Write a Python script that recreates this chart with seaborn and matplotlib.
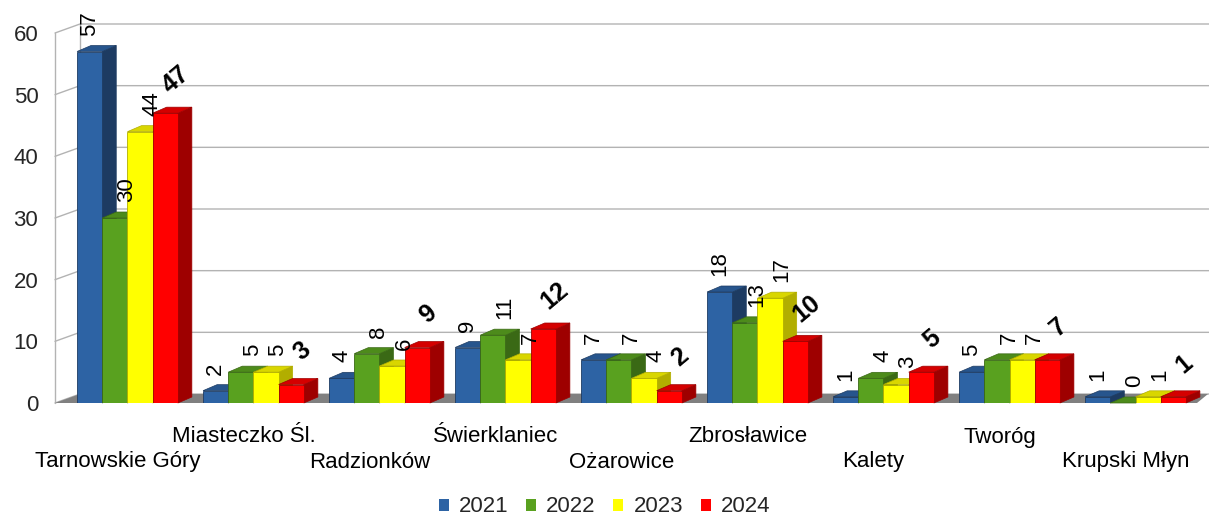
import matplotlib
matplotlib.use("Agg")
import matplotlib.pyplot as plt
from matplotlib.patches import Polygon, Patch
import numpy as np
import pandas as pd
import seaborn as sns

gminy = ["Tarnowskie Góry", "Miasteczko Śl.", "Radzionków", "Świerklaniec",
         "Ożarowice", "Zbrosławice", "Kalety", "Tworóg", "Krupski Młyn"]
lata = ["2021", "2022", "2023", "2024"]
v2021 = [57, 2, 4, 9, 7, 18, 1, 5, 1]
v2022 = [30, 5, 8, 11, 7, 13, 4, 7, 0]
v2023 = [44, 5, 6, 7, 4, 17, 3, 7, 1]
v2024 = [47, 3, 9, 12, 2, 10, 5, 7, 1]

front_cols = ["#2d63a4", "#59a11f", "#ffff00", "#ff0000"]
side_cols = ["#1d3b62", "#3a6915", "#b2ae00", "#9e0000"]
top_cols = ["#27558d", "#4d8b1b", "#d9d600", "#d40000"]

df = pd.DataFrame({
    "gmina": np.repeat(gminy, 4),
    "rok": lata * len(gminy),
    "wartosc": np.ravel(np.column_stack([v2021, v2022, v2023, v2024])),
})

sns.set_style("white")
plt.rcParams["font.family"] = ["Liberation Sans", "DejaVu Sans"]

W, H = 1209, 521
fig = plt.figure(figsize=(W / 100, H / 100), dpi=100)
ax = fig.add_axes([55 / W, 118 / H, 1142 / W, 370 / H])

sns.barplot(data=df, x="gmina", y="wartosc", hue="rok", order=gminy,
            hue_order=lata, palette=front_cols, width=0.8, saturation=1,
            legend=False, ax=ax)

xmin, xmax = -0.575, 8.488
ax.set_xlim(xmin, xmax)
ax.set_ylim(0, 60)
px_x = 1142 / (xmax - xmin)
px_y = 370 / 60

# depth of bars and of the chart walls (in data units)
bdx, bdy = 14 / px_x, 6 / px_y
wdx_l, wdx_r, wdy = 25 / px_x, 11 / px_x, 9 / px_y
x_right = xmin + (W - 55) / px_x

# floor
floor = Polygon([(xmin, 0), (xmax, 0), (xmax + wdx_r, wdy), (xmin + wdx_l, wdy)],
                closed=True, facecolor="#808080", edgecolor="none",
                zorder=0.5, clip_on=False)
ax.add_patch(floor)

# walls / grid
grid_c = "#b3b3b3"
for v in range(0, 61, 10):
    ax.plot([xmin, xmin + wdx_l, x_right], [v, v + wdy, v + wdy],
            color=grid_c, lw=1, zorder=0.3, clip_on=False)
ax.plot([xmin, xmin], [0, 60], color=grid_c, lw=1, zorder=0.3, clip_on=False)
ax.plot([xmin + wdx_l] * 2, [wdy, 60 + wdy], color=grid_c, lw=1,
        zorder=0.3, clip_on=False)

# pseudo 3d faces
for h, cont in enumerate(ax.containers):
    for bar in cont:
        x0 = bar.get_x()
        w = bar.get_width()
        hgt = bar.get_height()
        x1 = x0 + w
        z = 3 + h * 0.1
        bar.set_zorder(z + 0.05)
        bar.set_edgecolor(side_cols[h])
        bar.set_linewidth(0.6)
        side = Polygon([(x1, 0), (x1 + bdx, bdy), (x1 + bdx, hgt + bdy), (x1, hgt)],
                       closed=True, facecolor=side_cols[h], edgecolor=side_cols[h],
                       lw=0.5, zorder=z, clip_on=False)
        top = Polygon([(x0, hgt), (x1, hgt), (x1 + bdx, hgt + bdy), (x0 + bdx, hgt + bdy)],
                      closed=True, facecolor=top_cols[h], edgecolor=side_cols[h],
                      lw=0.5, zorder=z + 0.06, clip_on=False)
        ax.add_patch(side)
        ax.add_patch(top)

        cx = x0 + w / 2
        if h < 3:
            dx_pt = 0 if h == 0 else 12 * 0.72
            ax.annotate(f"{int(hgt)}", (cx, hgt), xytext=(dx_pt, 16 * 0.72),
                        textcoords="offset points", rotation=90, ha="center",
                        va="bottom", fontsize=16, color="#000000",
                        annotation_clip=False, zorder=10)
        else:
            ax.annotate(f"{int(hgt)}", (cx, hgt), xytext=(11 * 0.72, 33 * 0.72),
                        textcoords="offset points", rotation=40, ha="center",
                        va="center", fontsize=18, fontweight="bold",
                        color="#000000", annotation_clip=False, zorder=10)

# category labels in two rows
ax.set_xticks([])
ax.set_xlabel("")
ax.set_ylabel("")
for i, name in enumerate(gminy):
    y_lab = (403 - 462) / px_y if i % 2 == 0 else (403 - 437) / px_y
    ax.text(i - 10 / px_x, y_lab, name, ha="center", va="center",
            fontsize=16, color="#000000", clip_on=False)

ax.set_yticks(range(0, 61, 10))
ax.set_yticklabels([str(v) for v in range(0, 61, 10)], fontsize=16)
ax.tick_params(axis="y", length=0, pad=12)
for s in ax.spines.values():
    s.set_visible(False)
ax.patch.set_alpha(0)

handles = [Patch(facecolor=c, edgecolor="none", label=l) for c, l in zip(front_cols, lata)]
fig.legend(handles=handles, loc="center", bbox_to_anchor=(0.5, 1 - 507 / H),
           ncol=4, frameon=False, fontsize=16, handlelength=0.45,
           handleheight=0.45, handletextpad=0.45, columnspacing=0.8)

fig.savefig("out.png", dpi=100)
plt.close(fig)
